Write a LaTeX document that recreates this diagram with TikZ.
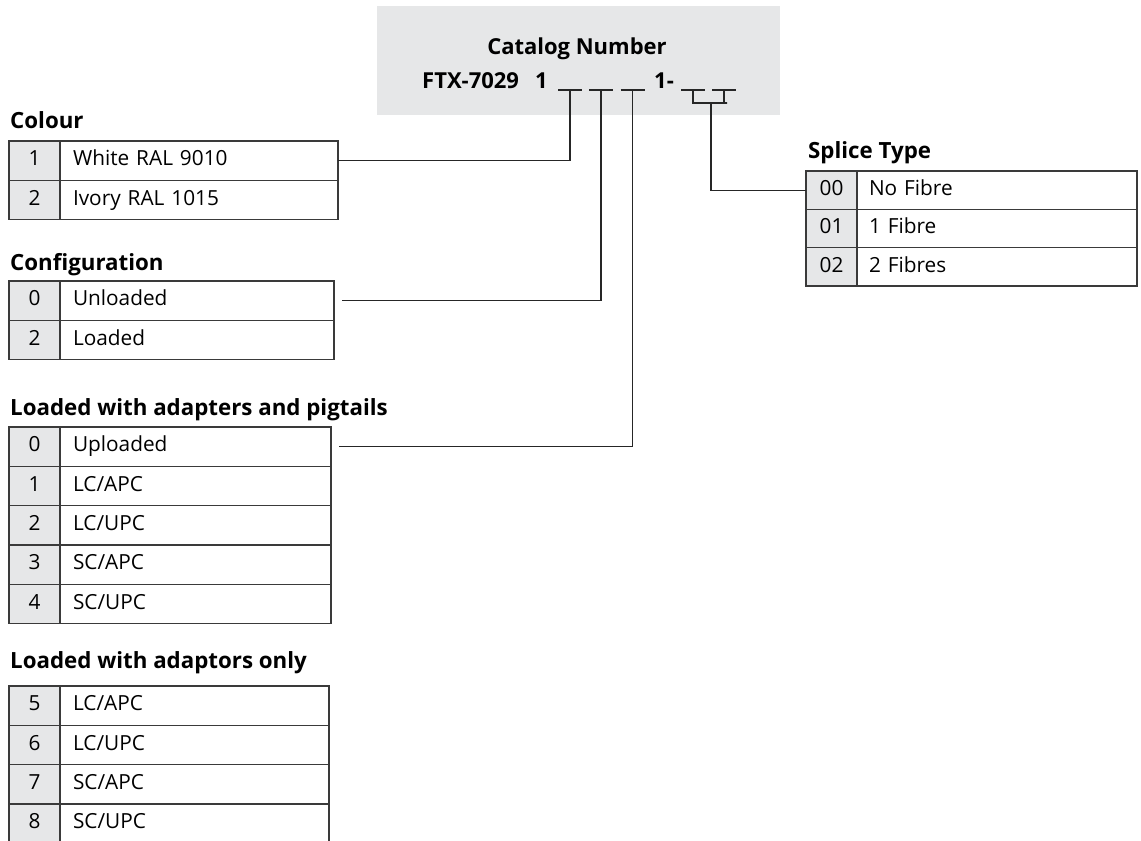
\documentclass[tikz,border=0pt]{standalone}
\usepackage{fontspec}
\setmainfont{Open Sans}
\definecolor{cellgray}{HTML}{E6E7E8}
\definecolor{boxgray}{HTML}{E6E7E8}
\definecolor{linecol}{HTML}{3A3A3A}
\begin{document}
\begin{tikzpicture}[x=1pt,y=-1pt,
  tbl/.style={draw=linecol, line width=1.4pt, minimum height=39.3pt, anchor=north west,
    inner sep=0pt, outer sep=0pt, text height=15.5pt, text depth=5pt,
    font=\fontsize{20.8}{24}\selectfont},
  numcell/.style={tbl, fill=cellgray, minimum width=51pt, align=center},
  txtcell/.style={tbl, text width=#1, align=left},
  sptbl/.style={minimum height=38.3pt},
  title/.style={anchor=base west, inner sep=0pt, font=\fontsize{22.3}{26}\selectfont\bfseries},
  cat/.style={anchor=base west, inner sep=0pt, font=\fontsize{22}{26}\selectfont\bfseries},
  conn/.style={draw=black!85, line width=1.3pt},
  uline/.style={draw=black!85, line width=1.2pt}
]
\useasboundingbox (0,0) rectangle (1141,841);

% catalog box
\node[fill=boxgray, minimum width=403pt, minimum height=109pt, anchor=north west, inner sep=0pt] (box) at (377,6) {};
\node[anchor=base, inner sep=0pt, font=\fontsize{22}{26}\selectfont\bfseries] (cattitle) at (577,54) {Catalog Number};
\node[cat] (ftx) at (422,88) {FTX-7029};
\node[cat] (one) at (535,88) {1};
\node[cat] (onedash) at (654,88) {1-};

\coordinate (u1) at (570,90);
\coordinate (u2) at (601,90);
\coordinate (u3) at (632.5,90);
\coordinate (u4) at (693,90);
\coordinate (u5) at (724,90);
\foreach \u in {u1,u2,u3,u4,u5}{
  \draw[uline] ([xshift=-12pt]\u) -- ([xshift=12pt]\u);
}
\coordinate (b4) at (695,103);
\coordinate (b5) at (727,103);
\coordinate (bm) at (711,103);

% Colour
\node[title] (tcol) at (10,128) {Colour};
\node[numcell] (c1n) at (9,141) {1};
\node[txtcell=278pt] (c1t) at (60,141) {\hspace*{13pt}White RAL 9010};
\node[numcell] (c2n) at (9,180.3) {2};
\node[txtcell=278pt] (c2t) at (60,180.3) {\hspace*{13pt}Ivory RAL 1015};

% Configuration
\node[title] (tcfg) at (10,270) {Configuration};
\node[numcell] (g1n) at (9,281) {0};
\node[txtcell=274pt] (g1t) at (60,281) {\hspace*{13pt}Unloaded};
\node[numcell] (g2n) at (9,320.3) {2};
\node[txtcell=274pt] (g2t) at (60,320.3) {\hspace*{13pt}Loaded};

% Loaded with adapters and pigtails
\node[title] (tadp) at (10,415) {Loaded with adapters and pigtails};
\node[numcell] (a0n) at (9,427) {0};
\node[txtcell=271pt] (a0t) at (60,427) {\hspace*{13pt}Uploaded};
\node[numcell] (a1n) at (9,466.3) {1};
\node[txtcell=271pt] (a1t) at (60,466.3) {\hspace*{13pt}LC/APC};
\node[numcell] (a2n) at (9,505.6) {2};
\node[txtcell=271pt] (a2t) at (60,505.6) {\hspace*{13pt}LC/UPC};
\node[numcell] (a3n) at (9,544.9) {3};
\node[txtcell=271pt] (a3t) at (60,544.9) {\hspace*{13pt}SC/APC};
\node[numcell] (a4n) at (9,584.2) {4};
\node[txtcell=271pt] (a4t) at (60,584.2) {\hspace*{13pt}SC/UPC};

% Loaded with adaptors only
\node[title] (tado) at (10,668) {Loaded with adaptors only};
\node[numcell] (o5n) at (9,686) {5};
\node[txtcell=269pt] (o5t) at (60,686) {\hspace*{13pt}LC/APC};
\node[numcell] (o6n) at (9,725.3) {6};
\node[txtcell=269pt] (o6t) at (60,725.3) {\hspace*{13pt}LC/UPC};
\node[numcell] (o7n) at (9,764.6) {7};
\node[txtcell=269pt] (o7t) at (60,764.6) {\hspace*{13pt}SC/APC};
\node[numcell] (o8n) at (9,803.9) {8};
\node[txtcell=269pt] (o8t) at (60,803.9) {\hspace*{13pt}SC/UPC};

% Splice Type
\node[title] (tspl) at (808,158) {Splice Type};
\node[numcell, sptbl] (s0n) at (806,171) {00};
\node[txtcell=280pt, sptbl] (s0t) at (857,171) {\hspace*{12pt}No Fibre};
\node[numcell, sptbl] (s1n) at (806,209.3) {01};
\node[txtcell=280pt, sptbl] (s1t) at (857,209.3) {\hspace*{12pt}1 Fibre};
\node[numcell, sptbl] (s2n) at (806,247.6) {02};
\node[txtcell=280pt, sptbl] (s2t) at (857,247.6) {\hspace*{12pt}2 Fibres};

% connectors
\draw[conn] (u1) |- (c1t.east);
\draw[conn] (u2) |- ([xshift=8pt]g1t.east);
\draw[conn] (u3) |- ([xshift=8pt]a0t.east);
\draw[conn] (u4) |- (b4) -- (b5) -| (u5);
\draw[conn] (bm) |- (s0n.west);
\end{tikzpicture}
\end{document}
